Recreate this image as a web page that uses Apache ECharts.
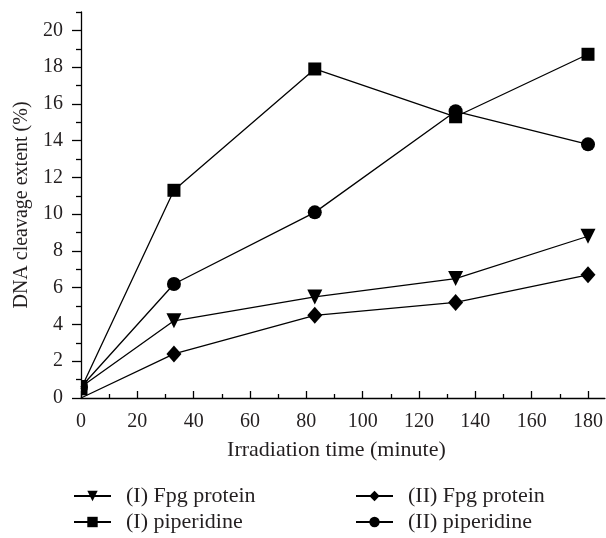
<!DOCTYPE html>
<html>
<head>
<meta charset="utf-8">
<script src="https://cdn.jsdelivr.net/npm/echarts@6/dist/echarts.min.js"></script>
<style>html,body{margin:0;padding:0;background:#fff}#c{width:606px;height:538px}</style>
</head>
<body>
<div id="c"></div>
<script>
const times = [0, 33, 83, 133, 180];
const fpgI = [0.6, 4.2, 5.5, 6.5, 8.8];
const fpgII = [0, 2.4, 4.5, 5.2, 6.7];
const pipI = [0.5, 11.3, 17.9, 15.3, 18.7];
const pipII = [0.6, 6.2, 10.1, 15.6, 13.8];
const xMajor = [0, 20, 40, 60, 80, 100, 120, 140, 160, 180];
const xMinor = [10, 30, 50, 70, 90, 110, 130, 150, 170];
const yMajor = [0, 2, 4, 6, 8, 10, 12, 14, 16, 18, 20];
const yMinor = [1, 3, 5, 7, 9, 11, 13, 15, 17, 19, 21];
const names = ['(I) Fpg protein', '(II) Fpg protein', '(I) piperidine', '(II) piperidine'];

const FONT = 'Liberation Serif';
const TXT = '#231f20';

// half symbols for points on the left boundary (clipped look)
const halfSym = {
  triangle: { symbol: 'path://M0,0 L10,0 L0,20 Z', size: [7, 14] },
  diamond: { symbol: 'none', size: [7, 16] },
  rect: { symbol: 'rect', size: [6.5, 13] },
  circle: { symbol: 'path://M0,0 A10,10 0 0,1 0,20 Z', size: [7, 14] }
};

function mk(name, vals, symbol, size, rotate) {
  const data = times.map((t, i) => {
    const d = { value: [t, vals[i]] };
    if (t === 0) {
      const h = halfSym[symbol];
      d.symbol = h.symbol;
      d.symbolSize = h.size;
      d.symbolRotate = 0;
      d.symbolOffset = [h.size[0] / 2, 0];
    }
    return d;
  });
  return {
    name, type: 'line', data, symbol, symbolSize: size, symbolRotate: rotate || 0,
    xAxisIndex: 0, yAxisIndex: 0,
    lineStyle: { color: '#000', width: 1.3 },
    itemStyle: { color: '#000' },
    clip: false, animation: false
  };
}

const chart = echarts.init(document.getElementById('c'), null, { renderer: 'canvas' });
const axisCommon = { min: 0, splitLine: { show: false } };
const legendText = { fontFamily: FONT, fontSize: 22, color: TXT, padding: [0, 0, 0, 10] };
chart.setOption({
  animation: false,
  textStyle: { fontFamily: FONT },
  grid: { left: 81, right: 1, top: 12, bottom: 140 },
  xAxis: [
    Object.assign({}, axisCommon, {
      type: 'value', max: 186, position: 'bottom',
      name: 'Irradiation time (minute)', nameLocation: 'middle', nameGap: 41,
      nameTextStyle: { fontFamily: FONT, fontSize: 22, color: TXT, padding: [0, 13, 0, 0] },
      axisLine: { lineStyle: { color: '#000', width: 1.3 } },
      axisTick: { inside: true, length: 7, customValues: xMajor, lineStyle: { color: '#000', width: 1.3 } },
      axisLabel: { customValues: xMajor, fontFamily: FONT, fontSize: 20, color: TXT, margin: 14 }
    }),
    Object.assign({}, axisCommon, {
      type: 'value', max: 186, position: 'bottom',
      axisLine: { show: false },
      axisTick: { inside: true, length: 4, customValues: xMinor, lineStyle: { color: '#000', width: 1.3 } },
      axisLabel: { show: false }
    })
  ],
  yAxis: [
    Object.assign({}, axisCommon, {
      type: 'value', max: 21, position: 'left',
      name: 'DNA cleavage extent (%)', nameLocation: 'middle', nameGap: 49,
      nameTextStyle: { fontFamily: FONT, fontSize: 20, color: TXT },
      axisLine: { show: true, lineStyle: { color: '#000', width: 1.3 } },
      axisTick: { show: true, inside: false, length: 9, customValues: yMajor, lineStyle: { color: '#000', width: 1.3 } },
      axisLabel: { customValues: yMajor, fontFamily: FONT, fontSize: 20, color: TXT, margin: 18 }
    }),
    Object.assign({}, axisCommon, {
      type: 'value', max: 21, position: 'left',
      axisLine: { show: false },
      axisTick: { show: true, inside: false, length: 5, customValues: yMinor, lineStyle: { color: '#000', width: 1.3 } },
      axisLabel: { show: false }
    })
  ],
  legend: [
    {
      orient: 'vertical', left: 73, top: 485, padding: 0, itemGap: 4, itemWidth: 37, itemHeight: 13,
      data: [names[0], names[2]], textStyle: legendText
    },
    {
      orient: 'vertical', left: 355, top: 485, padding: 0, itemGap: 4, itemWidth: 37, itemHeight: 13,
      data: [names[1], names[3]], textStyle: legendText
    }
  ],
  series: [
    mk(names[0], fpgI, 'triangle', 15, 180),
    mk(names[1], fpgII, 'diamond', [15, 17]),
    mk(names[2], pipI, 'rect', 13),
    mk(names[3], pipII, 'circle', 14)
  ]
});
</script>
</body>
</html>
